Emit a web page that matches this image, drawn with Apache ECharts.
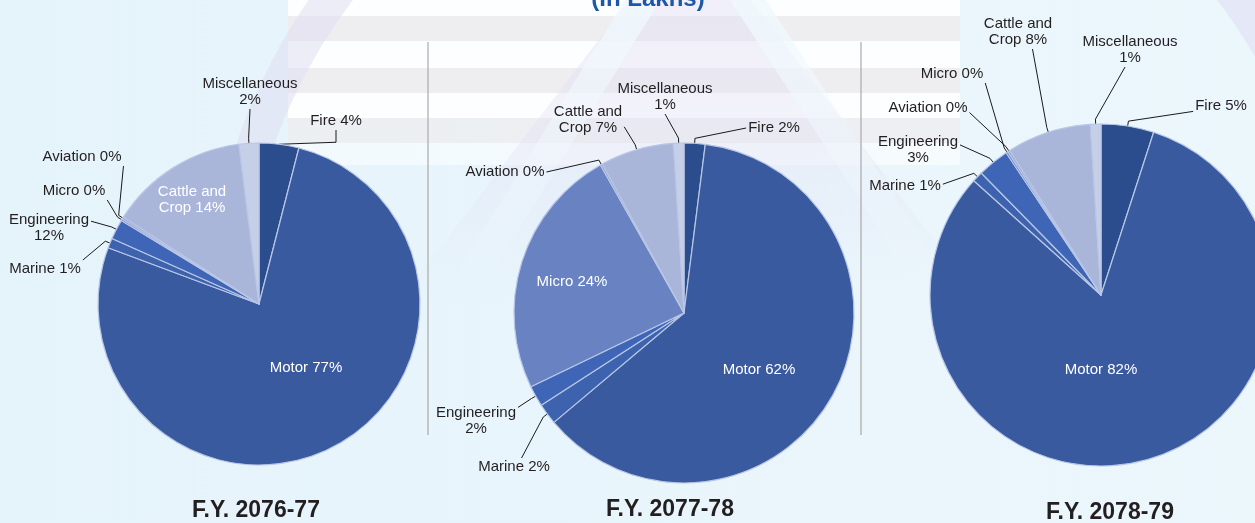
<!DOCTYPE html>
<html><head><meta charset="utf-8">
<script src="https://cdn.jsdelivr.net/npm/echarts@6/dist/echarts.min.js"></script>
<style>html,body{margin:0;padding:0;background:#E9F5FC;overflow:hidden}#c{width:1255px;height:523px;}</style>
</head><body><div id="c"></div>
<script>
// ---- data ----
const categories = ['Fire','Motor','Marine','Engineering','Micro','Aviation','Cattle and Crop','Miscellaneous'];
const labelNames = ['Fire ','Motor ','Marine ','Engineering\n','Micro ','Aviation ','Cattle and\nCrop ','Miscellaneous\n'];
const years = ['F.Y. 2076-77','F.Y. 2077-78','F.Y. 2078-79'];
const share7677 = [4, 77, 1, 2, 0.2, 0.2, 14, 2];
const share7778 = [2, 62, 2, 2, 24, 0.2, 7, 1];
const share7879 = [5, 82, 1, 3, 0.2, 0.2, 8, 1];
const shown7677 = ['4%','77%','1%','12%','0%','0%','14%','2%'];
const shown7778 = ['2%','62%','2%','2%','24%','0%','7%','1%'];
const shown7879 = ['5%','82%','1%','3%','0%','0%','8%','1%'];
const unitNote = '(In Lakhs)';

// ---- styling / layout ----
const colors = ['#2B4D8E','#3A5AA0','#3D62AE','#3F66B6','#6882C2','#8FA2D2','#A9B6DA','#C5CFE8'];
const centers = [[259,304],[684,313],[1101,295]];
const radii = [161,170,171];
const shares = [share7677, share7778, share7879];
const shown = [shown7677, shown7778, shown7879];
const insideIdx = [[1,6],[1,4],[1]];
// label placement relative to pie centre: [dx, dy, endFx, endFy, elbow]
const labelPos = [
  [[77,-183,0,1,'h'],[47,64],[-214,-35,1,-1],[-210,-76,1,-0.4],[-185,-113,1,1],[-177,-147,1,1],[-67,-104],[-9,-212,0,1]],
  [[90,-185,-1,0],[75,57],[-170,154,0.2,-1],[-208,108,1,-0.8],[-112,-31],[-179,-141,1,0],[-96,-193,1,0.4],[-19,-216,0,1]],
  [[120,-189,-1,0.6],[0,75],[-196,-109,1,-0.2],[-183,-145,1,-0.3],[-149,-221,1,1],[-173,-187,1,0.5],[-83,-263,0.4,1],[29,-245,-0.1,1]]
];
const FONT = '"Liberation Sans", Arial, sans-serif';

const chart = echarts.init(document.getElementById('c'), null, {renderer:'canvas'});

const series = shares.map((vals, s) => ({
  type: 'pie',
  center: centers[s],
  radius: radii[s],
  startAngle: 90,
  clockwise: true,
  avoidLabelOverlap: false,
  silent: true,
  itemStyle: {borderColor: '#B9C6E6', borderWidth: 1.2},
  label: {
    show: true, position: 'outside', color: '#231F20', fontFamily: FONT, fontSize: 15,
    lineHeight: 16, align: 'center',
    formatter: p => labelNames[p.dataIndex] + shown[s][p.dataIndex]
  },
  labelLine: {show: true, length: 5, length2: 5, lineStyle: {color: '#1a1a1a', width: 1}},
  labelLayout: function (p) {
    const L = labelPos[s][p.dataIndex];
    const c = centers[s];
    const x = c[0] + L[0], y = c[1] + L[1];
    const res = {x: x, y: y, align: 'center', verticalAlign: 'middle'};
    if (L.length > 2 && p.labelLinePoints) {
      const w = p.labelRect.width, h = p.labelRect.height;
      const end = [x + L[2] * (w / 2 + 2), y + L[3] * (h / 2 + 1)];
      const p0 = p.labelLinePoints[0];
      let mid = p.labelLinePoints[1];
      if (L[4] === 'h') mid = [end[0], p0[1] - 2];
      res.labelLinePoints = [p0, mid, end];
    }
    return res;
  },
  data: vals.map((v, i) => {
    const inside = insideIdx[s].indexOf(i) >= 0;
    return {
      name: categories[i], value: v,
      itemStyle: {color: colors[i]},
      label: inside ? {position: 'inside', color: '#FFFFFF'} : undefined,
      labelLine: inside ? {show: false} : undefined
    };
  })
}));

// background decorations
const bg = [];
// striped panel (fades out downward)
[[0,16],[41,27],[93,25],[143,22]].forEach(r => bg.push({type:'rect', z:-21, silent:true,
  shape:{x:288, y:r[0], width:672, height:r[1]}, style:{fill:'#FFFFFF', opacity: r[0] > 120 ? 0.5 : 0.9}}));
[16, 68, 118].forEach(t => bg.push({type:'rect', z:-20, silent:true,
  shape:{x:288, y:t, width:672, height:25}, style:{fill:'#EEEEF0', opacity: t > 100 ? 0.8 : 1}}));
// faint lavender ring (upper part only)
bg.push({type:'arc', z:-16, silent:true, shape:{cx:785, cy:329, r:561, startAngle:Math.PI*1.02, endAngle:Math.PI*1.98},
  style:{fill:null, stroke:'rgba(224,222,242,0.55)', lineWidth:36}});
// faint tent watermark, fading downward
bg.push({type:'polygon', z:-15, silent:true, shape:{points:[[690,-80],[400,300],[980,300]]},
  style:{fill:{type:'linear', x:0, y:0, x2:0, y2:1, colorStops:[
    {offset:0, color:'rgba(226,223,243,0.55)'},{offset:0.6, color:'rgba(226,223,243,0.35)'},{offset:1, color:'rgba(226,223,243,0)'}]}}});
bg.push({type:'polyline', z:-14, silent:true, shape:{points:[[470,280],[655,-20],[735,-20],[930,280]]},
  style:{stroke:{type:'linear', x:0, y:0, x2:0, y2:1, colorStops:[
    {offset:0, color:'rgba(240,249,253,0.95)'},{offset:1, color:'rgba(240,249,253,0)'}]}, lineWidth:30, fill:null}});

// dividers
bg.push({type:'line', z:5, silent:true, shape:{x1:428, y1:42, x2:428, y2:435}, style:{stroke:'#A9A9A9', lineWidth:1.2}});
bg.push({type:'line', z:5, silent:true, shape:{x1:861, y1:42, x2:861, y2:435}, style:{stroke:'#A9A9A9', lineWidth:1.2}});

// titles
const titleX = [256, 670, 1110];
const titleY = [511, 510, 513];
years.forEach((t, i) => bg.push({type:'text', z:10, silent:true, x:titleX[i], y:titleY[i],
  style:{text:t, fill:'#231F20', font:'bold 23px ' + FONT, textAlign:'center', textVerticalAlign:'middle'}}));
bg.push({type:'text', z:10, silent:true, x:648, y:-1,
  style:{text:unitNote, fill:'#1F56A8', font:'bold 24px ' + FONT, textAlign:'center', textVerticalAlign:'middle'}});

chart.setOption({
  animation: false,
  backgroundColor: {type:'linear', x:0, y:0, x2:1, y2:0,
    colorStops:[{offset:0, color:'#E5F3FB'},{offset:1, color:'#ECF7FC'}]},
  graphic: {elements: bg},
  series: series
});
</script></body></html>
